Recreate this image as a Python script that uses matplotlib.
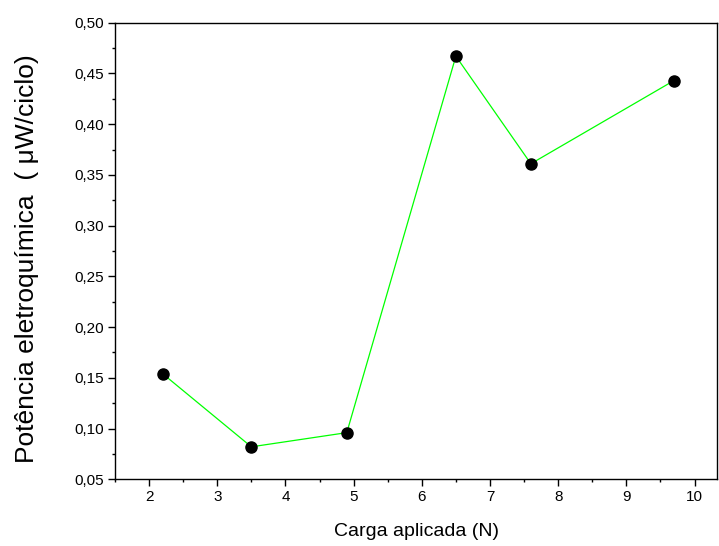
import matplotlib
matplotlib.use("Agg")
import matplotlib.pyplot as plt
from matplotlib.ticker import MultipleLocator, FuncFormatter

carga = [2.2, 3.5, 4.9, 6.5, 7.6, 9.7]
potencia = [0.154, 0.082, 0.096, 0.467, 0.361, 0.443]

plt.rcParams['font.family'] = ['Liberation Sans', 'DejaVu Sans']

fig = plt.figure(figsize=(7.19, 5.46), dpi=100)
W, H = 719, 546
left, right, top, bottom = 115, 717, 22.7, 479.3
ax = fig.add_axes([left / W, 1 - bottom / H, (right - left) / W, (bottom - top) / H])

ax.plot(carga, potencia, color='#00ff00', lw=0.9, zorder=2)
ax.plot(carga, potencia, 'o', color='black', ms=8, zorder=3, linestyle='none')

ax.set_xlim(1.5, 10.33)
ax.set_ylim(0.05, 0.50)
ax.xaxis.set_major_locator(MultipleLocator(1))
ax.xaxis.set_minor_locator(MultipleLocator(0.5))
ax.yaxis.set_major_locator(MultipleLocator(0.05))
ax.yaxis.set_minor_locator(MultipleLocator(0.025))
ax.yaxis.set_major_formatter(FuncFormatter(lambda v, p: f"{v:.2f}".replace('.', ',')))

ax.tick_params(which='major', direction='out', length=5, width=1, labelsize=11, pad=3)
ax.tick_params(which='minor', direction='out', length=2.5, width=1)
ax.tick_params(top=False, right=False)
for s in ax.spines.values():
    s.set_linewidth(1)

fig.text((left + right) / 2 / W, 1 - 531 / H, 'Carga aplicada (N)',
         ha='center', va='center', fontsize=14)

fig.text(27 / W, 1 - 463 / H, 'Potência eletroquímica  ( μW/ciclo)', rotation=90,
         ha='center', va='bottom', fontsize=19)

fig.savefig('out.png', dpi=100)
